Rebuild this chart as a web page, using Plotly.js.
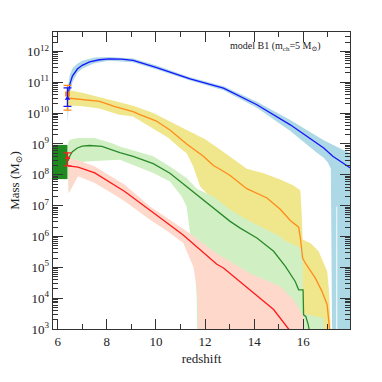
<!DOCTYPE html>
<html>
<head>
<meta charset="utf-8">
<script src="https://cdn.plot.ly/plotly-3.0.1.min.js"></script>
<style>
  html, body { margin: 0; padding: 0; background: #fff; }
  #chart { width: 382px; height: 382px; }
</style>
</head>
<body>
<div id="chart"></div>
<script>
// log10(M / Msun), against redshift z

// blue: total mass
const blueZ = [6.4, 6.45, 6.5, 6.6, 6.8, 7.0, 7.3, 7.7, 8.1, 8.6, 9.07, 10.0, 11.0, 11.39, 12.75, 14.11, 15.47, 16.83, 17.2, 17.5, 17.92];
const blueM = [10.47, 10.75, 10.95, 11.2, 11.43, 11.55, 11.66, 11.73, 11.76, 11.75, 11.71, 11.48, 11.22, 11.11, 10.81, 10.27, 9.62, 8.87, 8.6, 8.45, 8.22];
const blueUpZ = [6.4, 6.45, 6.5, 6.6, 6.8, 7.0, 7.5, 8.1, 9.07, 10.0, 11.39, 12.75, 14.11, 15.47, 16.83, 17.5, 17.92];
const blueUpM = [10.8, 11.05, 11.25, 11.45, 11.6, 11.7, 11.8, 11.82, 11.77, 11.55, 11.16, 10.87, 10.37, 9.78, 9.12, 8.85, 8.7];
const blueLoZ = [6.4, 6.42, 6.45, 6.5, 6.6, 6.8, 7.0, 7.5, 8.1, 9.07, 10.0, 11.39, 12.75, 14.11, 15.47, 16.5, 16.83, 17.0, 17.12, 17.18, 17.34, 17.345, 17.38, 17.385, 17.92];
const blueLoM = [9.7, 9.75, 10.2, 10.6, 11.0, 11.3, 11.45, 11.62, 11.7, 11.65, 11.42, 11.06, 10.74, 10.17, 9.42, 8.75, 8.55, 8.4, 8.2, 2, 2, 6.97, 6.97, 2, 2];

// orange / khaki
const orangeZ = [6.4, 6.5, 7.0, 7.71, 8.3, 9.07, 9.35, 10.0, 10.57, 11.25, 11.93, 12.34, 12.61, 13.02, 13.7, 14.1, 14.52, 15.06, 15.47, 15.81, 15.88, 15.97, 16.08, 16.49, 16.76, 16.97, 17.03, 17.08];
const orangeM = [10.49, 10.48, 10.45, 10.38, 10.22, 10.05, 9.95, 9.75, 9.45, 9.0, 8.6, 8.3, 8.18, 7.98, 7.55, 7.4, 7.25, 6.88, 6.52, 6.3, 5.95, 5.3, 5.14, 4.65, 4.22, 3.79, 3.3, 2.9];
const khakiUpZ = [6.4, 6.5, 7.0, 7.7, 8.5, 9.07, 9.89, 10.5, 11.25, 12.0, 12.61, 13.7, 14.38, 15.06, 15.6, 15.88, 15.93, 15.97, 16.3, 16.62, 16.97, 17.05, 17.1, 17.12];
const khakiUpM = [10.75, 10.74, 10.66, 10.52, 10.35, 10.24, 10.0, 9.75, 9.46, 9.15, 8.82, 8.2, 8.05, 7.85, 7.65, 7.5, 6.8, 5.9, 5.78, 5.52, 4.87, 4.2, 3.3, 2];
const khakiLoZ = [6.4, 6.5, 7.0, 7.7, 8.5, 9.07, 9.89, 10.5, 11.0, 11.25, 11.52, 11.8, 12.2, 12.35, 17.12];
const khakiLoM = [10.1, 10.25, 10.22, 10.15, 9.95, 9.89, 9.5, 9.2, 8.85, 8.7, 8.27, 7.62, 7.3, 2, 2];

// green
const greenZ = [6.42, 6.5, 6.6, 6.8, 7.0, 7.3, 7.8, 8.2, 8.53, 9.07, 9.89, 10.57, 11.25, 11.93, 12.61, 13.02, 13.43, 14.11, 14.79, 15.27, 15.67, 15.81, 15.99, 16.01, 16.1, 16.2, 16.28];
const greenM = [8.45, 8.62, 8.75, 8.87, 8.93, 8.95, 8.92, 8.8, 8.72, 8.6, 8.36, 8.05, 7.62, 7.19, 6.76, 6.49, 6.27, 5.95, 5.52, 5.03, 4.54, 4.27, 4.27, 3.46, 3.41, 3.14, 2.8];
const greenUpZ = [6.42, 6.5, 6.83, 7.5, 8.19, 8.53, 9.89, 10.57, 11.25, 11.66, 12.34, 13.02, 13.7, 15.06, 15.27, 15.6, 15.97, 15.98, 16.4, 16.83, 16.85];
const greenUpM = [9.05, 9.14, 9.19, 9.19, 9.03, 8.92, 8.6, 8.27, 7.9, 7.55, 7.3, 6.87, 6.54, 6.0, 5.85, 5.72, 5.6, 3.5, 3.42, 3.35, 2];
const greenLoZ = [6.42, 6.45, 6.7, 7.5, 8.53, 9.89, 10.57, 11.05, 11.25, 11.39, 11.59, 11.66, 11.7, 16.85];
const greenLoM = [8.0, 7.4, 8.4, 8.45, 8.49, 8.06, 7.78, 7.3, 6.97, 6.1, 5.0, 4.0, 2, 2];

// red / pink
const redZ = [6.42, 6.83, 7.51, 8.19, 8.73, 9.76, 10.57, 11.11, 11.39, 12.48, 12.75, 13.84, 14.11, 14.79, 15.4, 15.5];
const redM = [8.29, 8.25, 8.06, 7.73, 7.46, 6.85, 6.38, 6.05, 5.85, 5.1, 4.98, 4.27, 4.1, 3.63, 3.0, 2.9];
const pinkUpZ = [6.45, 6.83, 7.51, 8.19, 8.73, 9.76, 11.11, 11.39, 12.48, 13.84, 15.06, 15.6, 16.01, 16.08];
const pinkUpM = [8.54, 8.47, 8.27, 7.95, 7.68, 6.97, 6.27, 6.1, 5.45, 4.8, 4.38, 3.95, 3.41, 2];
const pinkLoZ = [6.45, 6.83, 7.51, 8.19, 8.73, 9.76, 10.5, 11.11, 11.52, 11.66, 11.72, 11.75, 16.08];
const pinkLoM = [7.4, 7.95, 7.73, 7.41, 7.14, 6.54, 6.15, 5.79, 5.03, 4.38, 3.5, 2, 2];

// observed points at z ~ 6.4 (value, upper, lower)
const obsZ = 6.4;
const obsOrange = [10.62, 10.9, 10.1];
const obsBlue = [10.47, 10.82, 10.22];
const obsRed = [8.55, 8.71, 8.29];
// dark green box
const boxZ = [5.8, 6.4];
const boxM = [7.86, 8.97];

const yTickPow = [3, 4, 5, 6, 7, 8, 9, 10, 11, 12];

const toM = a => a.map(v => Math.pow(10, v));

const band = (zUp, up, zLo, lo, color) => ({
    x: zUp.concat(zLo.slice().reverse()),
    y: toM(up).concat(toM(lo).reverse()),
    type: 'scatter', mode: 'lines', fill: 'toself',
    fillcolor: color, line: {width: 0}, hoverinfo: 'skip'
});

const curve = (z, m, color) => ({
    x: z, y: toM(m), type: 'scatter', mode: 'lines',
    line: {color: color, width: 1.3}, hoverinfo: 'skip'
});

const obsPoint = (p, color, symbol) => ({
    x: [obsZ], y: [Math.pow(10, p[0])], type: 'scatter', mode: 'markers',
    marker: {color: color, size: 5, symbol: symbol},
    error_y: {
        type: 'data', symmetric: false,
        array: [Math.pow(10, p[1]) - Math.pow(10, p[0])],
        arrayminus: [Math.pow(10, p[0]) - Math.pow(10, p[2])],
        color: color, thickness: 1.3, width: 4
    },
    hoverinfo: 'skip'
});

const data = [
    band(blueUpZ, blueUpM, blueLoZ, blueLoM, '#add8e6'),
    band(khakiUpZ, khakiUpM, khakiLoZ, khakiLoM, '#f0e68c'),
    band(greenUpZ, greenUpM, greenLoZ, greenLoM, '#d0f0c4'),
    band(pinkUpZ, pinkUpM, pinkLoZ, pinkLoM, '#ffd8cc'),
    curve(blueZ, blueM, '#1515ff'),
    curve(orangeZ, orangeM, '#ff8c1a'),
    curve(greenZ, greenM, '#2a8a2a'),
    curve(redZ, redM, '#ff1a1a'),
    {
        x: [boxZ[0], boxZ[1], boxZ[1], boxZ[0]],
        y: toM([boxM[0], boxM[0], boxM[1], boxM[1]]),
        type: 'scatter', mode: 'lines', fill: 'toself',
        fillcolor: '#1f8a1f', line: {width: 0}, hoverinfo: 'skip'
    },
    obsPoint(obsOrange, '#ff8c1a', 'square'),
    obsPoint(obsBlue, '#1515ff', 'triangle-up'),
    obsPoint(obsRed, '#ff1a1a', 'triangle-up')
];

const serif = 'Liberation Serif, DejaVu Serif, serif';

const layout = {
    width: 382, height: 382,
    margin: {l: 53, r: 32, t: 32, b: 53},
    paper_bgcolor: '#fff', plot_bgcolor: '#fff',
    showlegend: false,
    font: {family: serif, size: 13, color: '#222'},
    xaxis: {
        range: [5.81, 17.9], tickvals: [6, 8, 10, 12, 14, 16],
        ticks: 'inside', ticklen: 10, tickwidth: 1, tickcolor: '#333',
        minor: {dtick: 1, tick0: 0, ticks: 'inside', ticklen: 5, tickcolor: '#333'},
        showline: true, linecolor: '#333', linewidth: 1.3, mirror: 'allticks',
        showgrid: false, zeroline: false,
        title: {text: 'redshift', font: {family: serif, size: 13}, standoff: 6}
    },
    yaxis: {
        type: 'log', range: [3, 12.63],
        tickvals: toM(yTickPow), ticktext: yTickPow.map(p => '10<sup>' + p + '</sup>'),
        ticks: 'inside', ticklen: 10, tickwidth: 1, tickcolor: '#333',
        minor: {dtick: 'D1', ticks: 'inside', ticklen: 5, tickcolor: '#333'},
        showline: true, linecolor: '#333', linewidth: 1.3, mirror: 'allticks',
        showgrid: false, zeroline: false,
        title: {text: 'Mass (M<sub>⊙</sub>)', font: {family: serif, size: 13}, standoff: 4}
    },
    annotations: [{
        xref: 'paper', yref: 'paper', x: 0.91, y: 0.95, xanchor: 'right', yanchor: 'middle',
        text: 'model B1 (m<sub>ch</sub>=5 M<sub>⊙</sub>)', showarrow: false,
        font: {family: serif, size: 10, color: '#222'}
    }]
};

Plotly.newPlot('chart', data, layout, {staticPlot: true});
</script>
</body>
</html>
